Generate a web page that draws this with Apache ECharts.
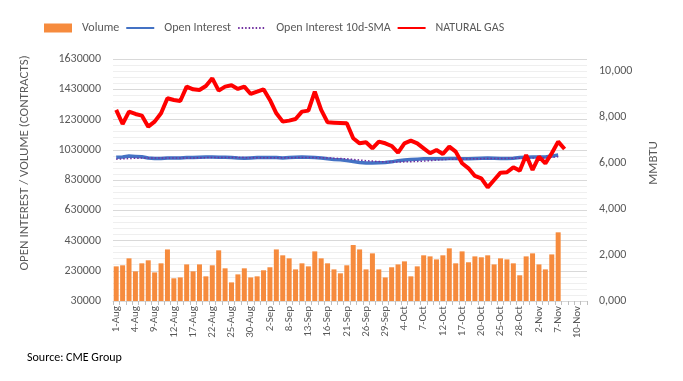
<!DOCTYPE html>
<html>
<head>
<meta charset="utf-8">
<script src="https://cdn.jsdelivr.net/npm/echarts@6/dist/echarts.min.js"></script>
<style>html,body{margin:0;padding:0;background:#fff;}#c{width:683px;height:381px;}</style>
</head>
<body>
<div id="c"></div>
<script>
var categories = ['1-Aug','2-Aug','3-Aug','4-Aug','5-Aug','8-Aug','9-Aug','10-Aug','11-Aug','12-Aug','15-Aug','16-Aug','17-Aug','18-Aug','19-Aug','22-Aug','23-Aug','24-Aug','25-Aug','26-Aug','29-Aug','30-Aug','31-Aug',
'1-Sep','2-Sep','6-Sep','7-Sep','8-Sep','9-Sep','12-Sep','13-Sep','14-Sep','15-Sep','16-Sep','19-Sep','20-Sep','21-Sep','22-Sep','23-Sep','26-Sep','27-Sep','28-Sep','29-Sep','30-Sep',
'3-Oct','4-Oct','5-Oct','6-Oct','7-Oct','10-Oct','11-Oct','12-Oct','13-Oct','14-Oct','17-Oct','18-Oct','19-Oct','20-Oct','21-Oct','24-Oct','25-Oct','26-Oct','27-Oct','28-Oct','31-Oct',
'1-Nov','2-Nov','3-Nov','4-Nov','7-Nov','8-Nov','9-Nov','10-Nov','11-Nov'];

var volume = [259000,266000,312000,226000,279000,299000,219000,279000,371000,180000,
186000,272000,226000,272000,193000,266000,365000,246000,153000,206000,
246000,186000,193000,233000,253000,371000,332000,312000,239000,279000,
259000,358000,312000,279000,239000,213000,266000,400000,371000,239000,
345000,239000,186000,253000,272000,292000,193000,259000,332000,325000,
305000,332000,378000,279000,358000,286000,325000,319000,332000,272000,
312000,305000,279000,200000,325000,345000,272000,239000,338000,484000];

var openInterest = [980000,982000,988000,986000,984000,975000,972000,972000,975000,976000,
976000,978000,978000,980000,982000,982000,980000,980000,978000,975000,
974000,976000,978000,978000,978000,978000,976000,978000,980000,982000,
980000,978000,975000,970000,966000,964000,958000,952000,946000,942000,
942000,944000,946000,950000,958000,962000,966000,968000,970000,970000,
970000,970000,972000,972000,970000,970000,972000,974000,976000,974000,
972000,972000,974000,978000,980000,982000,982000,982000,988000,995000];

var openInterestSMA = [968000,970000,972000,974000,975000,975000,975000,975000,976000,976000,
976000,976000,976000,977000,978000,978000,978000,978000,978000,978000,
978000,977000,977000,977000,977000,977000,977000,977000,978000,978000,
978000,978000,977000,976000,974000,972000,970000,966000,962000,958000,
955000,952000,950000,949000,949000,950000,951000,953000,955000,958000,
962000,965000,967000,968000,969000,970000,970000,971000,972000,972000,
972000,973000,973000,974000,975000,976000,977000,978000,980000,984000];

var naturalGas = [8305,7696,8232,8131,8059,7580,7797,8160,8812,8740,
8696,9319,9203,9174,9348,9681,9145,9319,9377,9218,
9319,9000,9101,9203,8740,8160,7797,7841,7913,8232,
8276,9101,8305,7768,7754,7740,7725,7073,6855,6899,
6638,6928,6855,6739,6450,6855,6972,6855,6638,6421,
6565,6392,6710,6493,5986,5768,5435,5334,4942,5261,
5580,5595,5812,5667,6348,5696,6276,5986,6421,6928,
6609];

var leftTicks = {min: 30000, max: 1630000, interval: 200000};
var rightTicks = {min: 0, max: 10520, interval: 2000};

var FONT = 'Carlito, "Liberation Sans Narrow", "Open Sans", sans-serif';
var TXT = '#595959';

var chart = echarts.init(document.getElementById('c'), null, {renderer: 'canvas'});
chart.setOption({
  animation: false,
  textStyle: {fontFamily: FONT},
  legend: {
    left: 44, top: 22, padding: 0,
    itemWidth: 28, itemHeight: 9, itemGap: 6,
    textStyle: {fontFamily: FONT, fontSize: 12, color: TXT, padding: [0, 0, 0, 5]},
    data: [
      {name: 'Volume', icon: 'rect'},
      {name: 'Open Interest', itemStyle: {opacity: 0}},
      {name: 'Open Interest 10d-SMA', itemStyle: {opacity: 0}},
      {name: 'NATURAL GAS', itemStyle: {opacity: 0}}
    ]
  },
  grid: {left: 113, right: 96, top: 59, bottom: 80, containLabel: false},
  xAxis: {
    type: 'category',
    data: categories,
    boundaryGap: true,
    axisLine: {lineStyle: {color: '#d9d9d9'}},
    axisTick: {show: true, interval: 0, length: 4, lineStyle: {color: '#bfbfbf'}},
    axisLabel: {interval: 2, rotate: 90, fontSize: 11, color: TXT, fontFamily: FONT, margin: 5}
  },
  yAxis: [
    {
      type: 'value',
      min: leftTicks.min, max: leftTicks.max, interval: leftTicks.interval,
      name: 'OPEN INTEREST / VOLUME (CONTRACTS)',
      nameLocation: 'middle', nameGap: 82, nameRotate: 90,
      nameTextStyle: {fontFamily: FONT, fontSize: 13, color: TXT, padding: [0, 0, 0, 34]},
      axisLine: {show: false}, axisTick: {show: false},
      axisLabel: {fontSize: 12, color: TXT, fontFamily: FONT, margin: 12,
        formatter: function (v) { return String(Math.round(v)); }},
      splitLine: {show: true, lineStyle: {color: '#d9d9d9', width: 1}},
      minorTick: {show: false, splitNumber: 5},
      minorSplitLine: {show: true, lineStyle: {color: '#efefef', width: 1}}
    },
    {
      type: 'value',
      min: rightTicks.min, max: rightTicks.max, interval: rightTicks.interval,
      name: 'MMBTU',
      nameLocation: 'middle', nameGap: 60, nameRotate: 90,
      nameTextStyle: {fontFamily: FONT, fontSize: 13, color: TXT, padding: [0, 0, 0, 34]},
      axisLine: {show: false}, axisTick: {show: false},
      splitLine: {show: false},
      axisLabel: {
        fontSize: 12, color: TXT, fontFamily: FONT, margin: 12,
        formatter: function (v) {
          if (v % 2000 !== 0) return '';
          var th = Math.floor(v / 1000), r = String(v % 1000);
          while (r.length < 3) r = '0' + r;
          return th + ',' + r;
        }
      }
    }
  ],
  series: [
    {
      name: 'Volume', type: 'bar', yAxisIndex: 0, data: volume,
      barCategoryGap: '22%',
      itemStyle: {color: '#F68B3D'}
    },
    {
      name: 'Open Interest', type: 'line', yAxisIndex: 0, data: openInterest,
      symbol: 'none', lineStyle: {color: '#4472C4', width: 3.5}, itemStyle: {color: '#4472C4'}
    },
    {
      name: 'Open Interest 10d-SMA', type: 'line', yAxisIndex: 0, data: openInterestSMA,
      symbol: 'none', lineStyle: {color: '#7030A0', width: 1.5, type: [1.5, 2]}, itemStyle: {color: '#7030A0'}
    },
    {
      name: 'NATURAL GAS', type: 'line', yAxisIndex: 1, data: naturalGas,
      symbol: 'none', lineStyle: {color: '#FF0000', width: 4}, itemStyle: {color: '#FF0000'}
    }
  ],
  graphic: [
    {type: 'text', left: 27, top: 352, style: {text: 'Source: CME Group', font: '12px ' + FONT, fill: '#000'}}
  ]
});
</script>
</body>
</html>
